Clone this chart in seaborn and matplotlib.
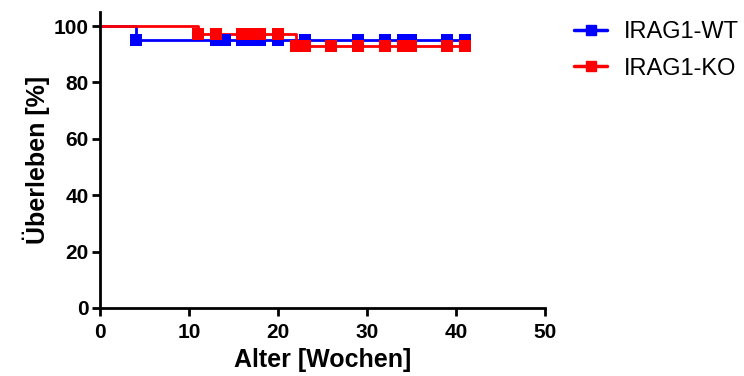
import numpy as np
import pandas as pd
import matplotlib
matplotlib.use("Agg")
import matplotlib.pyplot as plt
import seaborn as sns

# Kaplan-Meier step curves (weeks, survival %)
wt_time = [0, 4, 41]
wt_surv = [100, 95, 95]
ko_time = [0, 11, 22, 41]
ko_surv = [100, 97.1, 93.0, 93.0]

# censored / marked time points
wt_marks = [4, 13, 14, 16, 17, 18, 20, 23, 29, 32, 34, 35, 39, 41]
ko_marks = [11, 13, 16, 17, 18, 20, 22, 23, 26, 29, 32, 34, 35, 39, 41]

groups = ["IRAG1-WT", "IRAG1-KO"]
colors = {"IRAG1-WT": "#0000ff", "IRAG1-KO": "#ff0000"}


def surv_at(times, surv, t):
    idx = np.searchsorted(times, t, side="right") - 1
    return np.array(surv)[idx]


curves = pd.concat([
    pd.DataFrame({"time": wt_time, "surv": wt_surv, "group": "IRAG1-WT"}),
    pd.DataFrame({"time": ko_time, "surv": ko_surv, "group": "IRAG1-KO"}),
])
marks = pd.concat([
    pd.DataFrame({"time": wt_marks, "surv": surv_at(wt_time, wt_surv, wt_marks), "group": "IRAG1-WT"}),
    pd.DataFrame({"time": ko_marks, "surv": surv_at(ko_time, ko_surv, ko_marks), "group": "IRAG1-KO"}),
])

sns.set_style("ticks")
plt.rcParams["font.family"] = ["Liberation Sans", "DejaVu Sans"]
plt.rcParams["text.color"] = "black"
plt.rcParams["axes.labelcolor"] = "black"
plt.rcParams["xtick.color"] = "black"
plt.rcParams["ytick.color"] = "black"

fig = plt.figure(figsize=(7.44, 3.76), dpi=100)
ax = fig.add_axes([0.1344, 0.181, 0.598, 0.787])

for g in groups:
    c = curves[curves.group == g]
    m = marks[marks.group == g]
    sns.lineplot(x=c["time"], y=c["surv"], ax=ax, color=colors[g], lw=2,
                 drawstyle="steps-post", legend=False)
    sns.scatterplot(x=m["time"], y=m["surv"], ax=ax, color=colors[g], marker="s",
                    s=80, linewidth=0, legend=False, zorder=3)

handles = [plt.Line2D([], [], color=colors[g], lw=2.5, marker="s", markersize=7) for g in groups]
ax.legend(handles, groups, loc="upper left", bbox_to_anchor=(574 / 744, 1 - 21 / 376),
          bbox_transform=fig.transFigure, frameon=False, fontsize=17,
          handlelength=1.4, handletextpad=0.7, labelspacing=0.62,
          borderpad=0, borderaxespad=0)

ax.set_xlim(0, 50)
ax.set_ylim(0, 105)
ax.set_xticks(range(0, 51, 10))
ax.set_yticks(range(0, 101, 20))
ax.set_xlabel("Alter [Wochen]", fontsize=18, fontweight="bold", labelpad=4)
ax.set_ylabel("Überleben [%]", fontsize=18, fontweight="bold", labelpad=3)
ax.tick_params(labelsize=15, width=2, length=6)
ax.tick_params(axis="x", pad=5)
ax.tick_params(axis="y", pad=2)
for lab in ax.get_xticklabels() + ax.get_yticklabels():
    lab.set_fontweight("bold")
for s in ["left", "bottom"]:
    ax.spines[s].set_linewidth(2)
    ax.spines[s].set_color("black")
sns.despine(ax=ax)

fig.savefig("out.png", dpi=100)
